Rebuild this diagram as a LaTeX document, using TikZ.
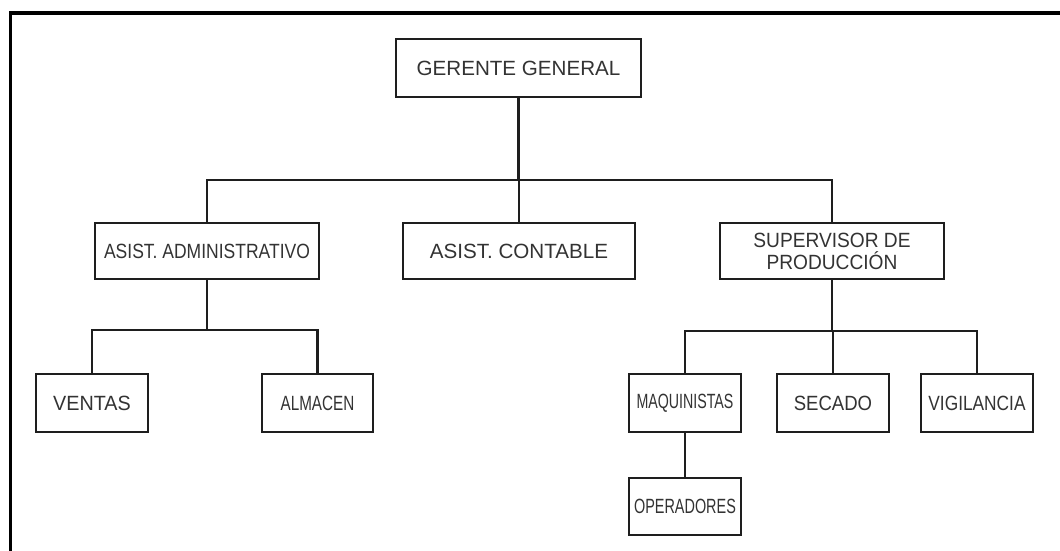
\documentclass[tikz,border=0pt]{standalone}
\usepackage{fontspec}
\setmainfont{Liberation Sans}
\definecolor{txt}{HTML}{333333}
\definecolor{ln}{HTML}{1E1E1E}
\begin{document}
\begin{tikzpicture}[x=1pt,y=-1pt,
  box/.style={draw=ln,line width=2.4pt,fill=white,inner sep=0pt,align=center,
    text=txt,font=\fontsize{20.6}{22}\selectfont},
  conn/.style={draw=ln,line width=2.4pt}]
\clip (0,0) rectangle (1060,551);
\fill[white] (0,0) rectangle (1060,551);
\draw[line width=3.8pt,black] (10.5,12.7) rectangle (1080,580);
% nodes
\node[box,minimum width=245pt,minimum height=58pt] (GG) at (518.5,68) {GERENTE GENERAL};
\node[box,minimum width=224pt,minimum height=56pt] (AA) at (207,251) {\scalebox{0.85}[1]{ASIST. ADMINISTRATIVO}};
\node[box,minimum width=232pt,minimum height=56pt] (AC) at (519,251) {ASIST. CONTABLE};
\node[box,minimum width=224pt,minimum height=56pt] (SP) at (832,251) {\scalebox{0.93}[1]{SUPERVISOR DE}\\\scalebox{0.93}[1]{PRODUCCIÓN}};
\node[box,minimum width=112pt,minimum height=58pt] (VE) at (92,403) {\scalebox{0.96}[1]{VENTAS}};
\node[box,minimum width=111pt,minimum height=58pt] (AL) at (317.5,403) {\scalebox{0.74}[1]{ALMACEN}};
\node[box,minimum width=112pt,minimum height=58pt] (MA) at (685,403) {\scalebox{0.69}[1]{MAQUINISTAS}};
\node[box,minimum width=112pt,minimum height=58pt] (SE) at (833,403) {\scalebox{0.9}[1]{SECADO}};
\node[box,minimum width=112pt,minimum height=58pt] (VI) at (977,403) {\scalebox{0.84}[1]{VIGILANCIA}};
\node[box,minimum width=112pt,minimum height=57pt] (OP) at (685,506.5) {\scalebox{0.7}[1]{OPERADORES}};
% bus coordinates
\coordinate (b1) at (0,180);
\coordinate (b2) at (0,330);
\coordinate (b3) at (0,331);
% connectors
\draw[conn] (GG.south) -- (GG.south |- b1);
\draw[conn] (AA.north) -- (AA.north |- b1) -- (SP.north |- b1) -- (SP.north);
\draw[conn] (AC.north) -- (AC.north |- b1);
\draw[conn] (AA.south) -- (AA.south |- b2);
\draw[conn] (VE.north) -- (VE.north |- b2) -- (AL.north |- b2) -- (AL.north);
\draw[conn] (SP.south) -- (SP.south |- b3);
\draw[conn] (MA.north) -- (MA.north |- b3) -- (VI.north |- b3) -- (VI.north);
\draw[conn] (SE.north) -- (SE.north |- b3);
\draw[conn] (MA.south) -- (OP.north);
\end{tikzpicture}
\end{document}
